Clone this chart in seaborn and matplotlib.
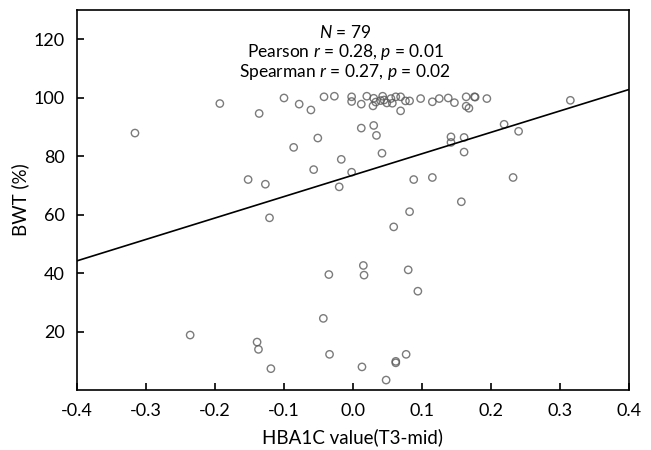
import numpy as np
import pandas as pd
import matplotlib
matplotlib.use("Agg")
import matplotlib.pyplot as plt
import seaborn as sns

hba1c = [-0.316, -0.193, -0.136, -0.152, -0.100, -0.078, -0.061, -0.042, -0.027, -0.002,
         -0.002, 0.012, 0.020, 0.030, 0.029, 0.033, 0.043, 0.040, 0.049, 0.055,
         0.057, 0.062, 0.069, 0.069, 0.076, 0.082, 0.098, 0.115, 0.125, 0.138,
         0.147, 0.164, 0.176, 0.194, 0.164, 0.168, 0.315, 0.012, 0.030, 0.034,
         0.042, -0.051, -0.086, -0.017, -0.057, -0.002, -0.020, -0.127, 0.088, 0.115,
         0.142, 0.142, 0.161, 0.161, 0.219, 0.240, 0.232, 0.157, -0.121, 0.082,
         0.059, -0.236, -0.139, -0.137, -0.035, 0.015, 0.016, 0.080, 0.094, -0.043,
         -0.119, -0.034, 0.013, 0.062, 0.062, 0.077, 0.048, 0.177, 0.045]
bwt = [87.9, 98.0, 94.6, 72.0, 99.9, 97.8, 95.8, 100.3, 100.5, 100.3,
       98.7, 97.8, 100.5, 99.8, 97.2, 98.5, 100.5, 99.0, 98.2, 99.7,
       98.1, 100.3, 100.3, 95.5, 98.9, 98.9, 99.7, 98.6, 99.7, 99.9,
       98.3, 100.3, 100.3, 99.7, 97.1, 96.4, 99.1, 89.6, 90.5, 87.1,
       81.0, 86.2, 83.0, 78.9, 75.4, 74.5, 69.5, 70.4, 72.0, 72.7,
       86.6, 84.7, 86.4, 81.4, 90.9, 88.5, 72.7, 64.4, 58.9, 61.0,
       55.8, 18.8, 16.4, 13.9, 39.5, 42.6, 39.3, 41.1, 33.8, 24.5,
       7.3, 12.2, 7.9, 9.8, 9.3, 12.2, 3.4, 100.2, 99.2]

xticks = [-0.4, -0.3, -0.2, -0.1, 0.0, 0.1, 0.2, 0.3, 0.4]
yticks = [20, 40, 60, 80, 100, 120]
stats_lines = [r"$\mathit{N}$ = 79",
               r"Pearson $\mathit{r}$ = 0.28, $\mathit{p}$ = 0.01",
               r"Spearman $\mathit{r}$ = 0.27, $\mathit{p}$ = 0.02"]

df = pd.DataFrame({"x": hba1c, "y": bwt})

sns.set_theme(style="white")
plt.rcParams['font.family'] = ['Lato', 'DejaVu Sans']
plt.rcParams['mathtext.fontset'] = 'custom'
plt.rcParams['mathtext.rm'] = 'Lato'
plt.rcParams['mathtext.it'] = 'Lato:italic'

fig = plt.figure(figsize=(6.51, 4.5), dpi=100)
ax = fig.add_axes([77/651, 60/450, (629-77)/651, (390-10)/450])
ax.set_xlim(-0.4, 0.4)
ax.set_ylim(0, 130)

sns.regplot(data=df, x="x", y="y", ax=ax, ci=None, truncate=False,
            scatter_kws=dict(s=28, facecolors='none', edgecolors='#5a5a5a', linewidths=1.0),
            line_kws=dict(color='black', lw=1.2))

ax.set_xlim(-0.4, 0.4)
ax.set_ylim(0, 130)
ax.set_xticks(xticks)
ax.set_xticklabels([f"{t:.1f}" for t in xticks])
ax.set_yticks(yticks)
ax.tick_params(direction='in', length=5, width=1.2, color='black', labelsize=13,
               labelcolor='black', bottom=True, left=True, pad=9)
for s in ax.spines.values():
    s.set_color('black')
    s.set_linewidth(1.2)
ax.set_xlabel("HBA1C value(T3-mid)", fontsize=13.5, color='black', labelpad=7)
ax.set_ylabel("BWT (%)", fontsize=13.5, color='black', labelpad=3)

for i, t in enumerate(stats_lines):
    fig.text(345/651, 1 - (33 + 19.5*i)/450, t, ha='center', va='center',
             fontsize=12.5, color='black')

fig.savefig("out.png", dpi=100)
